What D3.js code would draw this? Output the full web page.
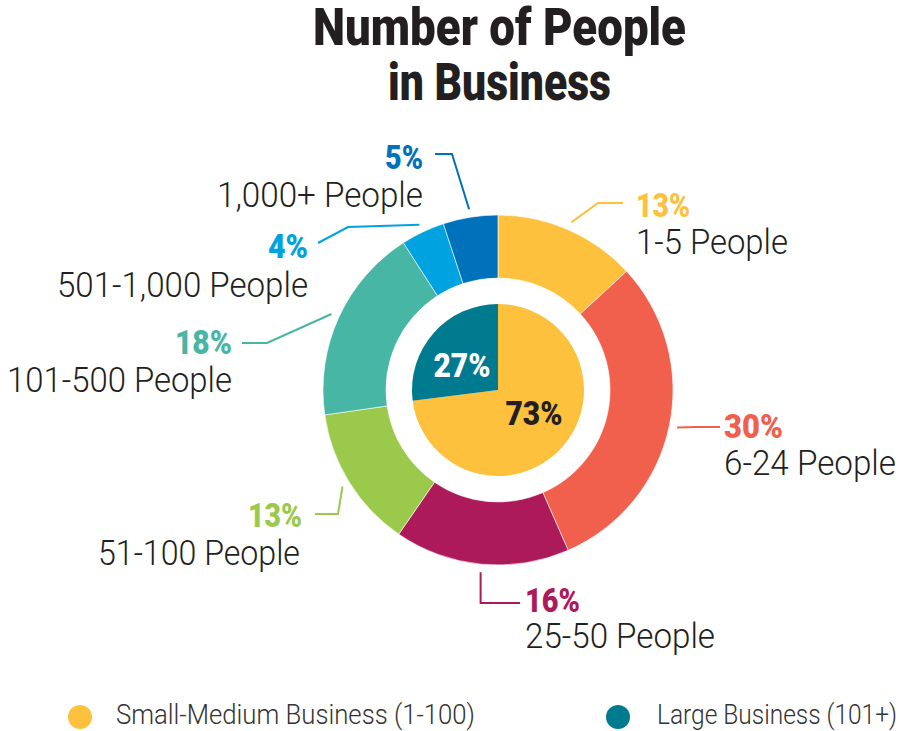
<!DOCTYPE html>
<html>
<head>
<meta charset="utf-8">
<script src="https://cdn.jsdelivr.net/npm/d3@7"></script>
<style>
  html, body { margin: 0; padding: 0; background: #ffffff; }
  svg { display: block; }
  text { font-family: "Roboto", "DejaVu Sans Condensed", sans-serif; }
  .heavy { font-weight: 900; }
  .light { font-weight: 300; }
</style>
</head>
<body>
<svg id="chart" width="899" height="731"></svg>
<script>
// ---- Data ----
const titleLines = ["Number of People", "in Business"];

// Outer ring: business size bands (percent of businesses)
const sizeBands = ["1-5 People", "6-24 People", "25-50 People", "51-100 People",
                   "101-500 People", "501-1,000 People", "1,000+ People"];
const sizeShares = [13, 30, 16, 13, 18, 4, 5];
const sizeColors = ["#FDC13E", "#F1604C", "#AD1A5A", "#9BC94C", "#48B6A4", "#00A2DF", "#0071BB"];

// Inner pie: small-medium vs large
const groupNames = ["Small-Medium Business (1-100)", "Large Business (101+)"];
const groupShares = [73, 27];
const groupColors = ["#FDC13E", "#007A8F"];
const groupLabelColors = ["#231F20", "#FFFFFF"];

// ---- Layout ----
const svg = d3.select("#chart");
const cx = 498, cy = 390;
const outerR = 175, ringInnerR = 112, pieR = 86, leaderR = 183;
const ink = "#231F20";

// Label placement for each ring slice: leader elbow/end and text anchor
const labelLayout = [
  { elbow: [598, 203], end: [623, 203], x: 636, pctY: 217, nameY: 254, anchor: "start", pctW: 54, nameW: 152 },
  { elbow: [695, 427], end: [720, 427], x: 724, pctY: 438, nameY: 475, anchor: "start", pctW: 59, nameW: 172 },
  { elbow: [null, 603], end: [520, 603], x: 525, pctY: 612, nameY: 648, anchor: "start", pctW: 55, nameW: 190 },
  { elbow: [338, 514], end: [315, 514], x: 302, pctY: 527, nameY: 565, anchor: "end", pctW: 54, nameW: 202, nameX: 300 },
  { elbow: [267, 343], end: [242, 343], x: 232, pctY: 354, nameY: 392, anchor: "end", pctW: 57, nameW: 225 },
  { elbow: [348, 227], end: [318, 243], x: 308, pctY: 258, nameY: 297, anchor: "end", pctW: 40, nameW: 251 },
  { elbow: [452, 154], end: [435, 154], x: 423, pctY: 169, nameY: 207, anchor: "end", pctW: 38, nameW: 206 }
];

// ---- Title ----
const titleWidths = [373, 223];
svg.append("g").selectAll("text")
  .data(titleLines)
  .join("text")
  .attr("class", "heavy")
  .attr("x", 499.5)
  .attr("y", (d, i) => 45 + i * 55)
  .attr("text-anchor", "middle")
  .attr("font-size", 51)
  .attr("fill", ink)
  .attr("textLength", (d, i) => titleWidths[i])
  .attr("lengthAdjust", "spacingAndGlyphs")
  .text(d => d);

// ---- Outer ring ----
const pie = d3.pie().sort(null).value(d => d);
const ringArcs = pie(sizeShares);
const ringArc = d3.arc().innerRadius(ringInnerR).outerRadius(outerR);

const g = svg.append("g").attr("transform", `translate(${cx},${cy})`);
g.append("g").selectAll("path")
  .data(ringArcs)
  .join("path")
  .attr("d", ringArc)
  .attr("fill", (d, i) => sizeColors[i])
  .attr("stroke", "#ffffff")
  .attr("stroke-width", 0.6);

// ---- Inner pie ----
const innerArcs = pie(groupShares);
const innerArc = d3.arc().innerRadius(0).outerRadius(pieR);
g.append("g").selectAll("path")
  .data(innerArcs)
  .join("path")
  .attr("d", innerArc)
  .attr("fill", (d, i) => groupColors[i]);

// Center percentage labels
const innerLabelPos = [[534, 425], [462, 377]];
const innerLabelW = [57, 57];
svg.append("g").selectAll("text")
  .data(innerArcs)
  .join("text")
  .attr("class", "heavy")
  .attr("x", (d, i) => innerLabelPos[i][0])
  .attr("y", (d, i) => innerLabelPos[i][1])
  .attr("text-anchor", "middle")
  .attr("font-size", 33)
  .attr("fill", (d, i) => groupLabelColors[i])
  .attr("textLength", (d, i) => innerLabelW[i])
  .attr("lengthAdjust", "spacingAndGlyphs")
  .text(d => d.data + "%");

// ---- Ring labels with leader lines ----
const labels = svg.append("g");
ringArcs.forEach((a, i) => {
  const L = labelLayout[i];
  const mid = (a.startAngle + a.endAngle) / 2;
  const sx = cx + leaderR * Math.sin(mid);
  const sy = cy - leaderR * Math.cos(mid);
  const ex = L.elbow[0] === null ? sx : L.elbow[0];
  labels.append("path")
    .attr("d", d3.line()([[sx, sy], [ex, L.elbow[1]], L.end]))
    .attr("fill", "none")
    .attr("stroke", sizeColors[i])
    .attr("stroke-width", 2);
  labels.append("text")
    .attr("class", "heavy")
    .attr("x", L.x)
    .attr("y", L.pctY)
    .attr("text-anchor", L.anchor)
    .attr("font-size", 33)
    .attr("fill", sizeColors[i])
    .attr("textLength", L.pctW)
    .attr("lengthAdjust", "spacingAndGlyphs")
    .text(a.data + "%");
  labels.append("text")
    .attr("class", "light")
    .attr("x", L.nameX !== undefined ? L.nameX : L.x)
    .attr("y", L.nameY)
    .attr("text-anchor", L.anchor)
    .attr("font-size", 35)
    .attr("fill", ink)
    .attr("textLength", L.nameW)
    .attr("lengthAdjust", "spacingAndGlyphs")
    .text(sizeBands[i]);
});

// ---- Legend ----
const legendX = [80, 618];
const legendTextW = [359, 240];
const legend = svg.append("g").selectAll("g")
  .data(groupNames)
  .join("g")
  .attr("transform", (d, i) => `translate(${legendX[i]},717)`);
legend.append("circle")
  .attr("r", 12)
  .attr("fill", (d, i) => groupColors[i]);
legend.append("text")
  .attr("class", "light")
  .attr("x", (d, i) => i === 0 ? 36 : 39)
  .attr("y", 7)
  .attr("font-size", 27)
  .attr("fill", "#333333")
  .attr("textLength", (d, i) => legendTextW[i])
  .attr("lengthAdjust", "spacingAndGlyphs")
  .text(d => d);
</script>
</body>
</html>
